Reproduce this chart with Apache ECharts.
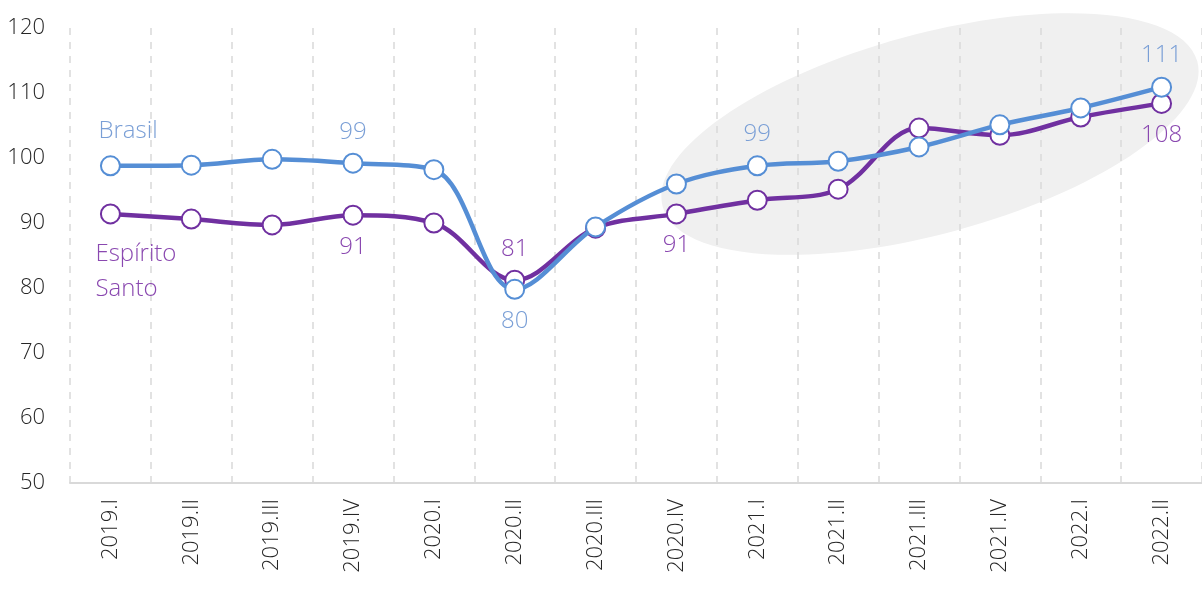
<!DOCTYPE html>
<html>
<head>
<meta charset="utf-8">
<script src="https://cdn.jsdelivr.net/npm/echarts@6/dist/echarts.min.js"></script>
<style>html,body{margin:0;padding:0;background:#fff}#c{width:1202px;height:590px}</style>
</head>
<body>
<div id="c"></div>
<script>
const categories = ['2019.I','2019.II','2019.III','2019.IV','2020.I','2020.II','2020.III','2020.IV','2021.I','2021.II','2021.III','2021.IV','2022.I','2022.II'];
const brasil = [98.8, 98.9, 99.8, 99.2, 98.2, 79.8, 89.4, 96.0, 98.8, 99.5, 101.7, 105.1, 107.7, 110.9];
const espiritoSanto = [91.4, 90.6, 89.7, 91.2, 90.0, 81.2, 89.2, 91.4, 93.5, 95.2, 104.6, 103.5, 106.3, 108.4];
const brasilLabelIdx = {3: 'top', 5: 'bottom', 8: 'top', 13: 'top'};
const esLabelIdx = {3: 'bottom', 5: 'top', 7: 'bottom', 13: 'bottom'};
const yTicks = [50, 60, 70, 80, 90, 100, 110, 120];

const FONT = '"Open Sans", "Noto Sans", sans-serif';
const BLUE = '#558ed5';
const PURPLE = '#7030a0';
const BLUE_TXT = '#7a9fd6';
const PURPLE_TXT = '#8a48b0';

function buildData(vals, idxMap, color, nameLabel) {
  return vals.map((v, i) => {
    const item = { value: v };
    if (idxMap[i]) {
      item.label = {
        show: true, position: idxMap[i], distance: 9,
        formatter: p => Math.round(p.value).toString(),
        color: color, fontSize: 24, fontFamily: FONT, fontWeight: 300
      };
    }
    if (i === 0 && nameLabel) item.label = nameLabel;
    return item;
  });
}

const chart = echarts.init(document.getElementById('c'), null, {renderer: 'canvas'});
chart.setOption({
  animation: false,
  backgroundColor: '#fff',
  graphic: [{
    type: 'ellipse', z: -10, silent: true,
    x: 930, y: 134, rotation: 15.2 * Math.PI / 180,
    shape: { cx: 0, cy: 0, rx: 277, ry: 100 },
    style: { fill: '#f0f0f0' }
  }],
  grid: { left: 70, top: 28, width: 1136, bottom: 107, containLabel: false },
  xAxis: {
    type: 'category', data: categories, boundaryGap: true,
    axisLine: { show: true, lineStyle: { color: '#d9d9d9', width: 2 } },
    axisTick: { show: false },
    splitLine: { show: true, interval: 0, lineStyle: { color: '#d9d9d9', width: 1.5, type: [7, 7] } },
    axisLabel: { rotate: 90, interval: 0, margin: 16, color: '#262626', fontSize: 22, fontFamily: FONT, fontWeight: 300 }
  },
  yAxis: {
    type: 'value', min: yTicks[0], max: yTicks[yTicks.length - 1], interval: 10,
    axisLine: { show: false }, axisTick: { show: false },
    splitLine: { show: false },
    axisLabel: { margin: 25, color: '#262626', fontSize: 22, fontFamily: FONT, fontWeight: 300 }
  },
  series: [
    {
      name: 'Brasil', type: 'line', smooth: 0.35, z: 3,
      symbol: 'circle', symbolSize: 19,
      lineStyle: { color: BLUE, width: 4.5 },
      itemStyle: { color: '#fff', borderColor: BLUE, borderWidth: 2 },
      data: buildData(brasil, brasilLabelIdx, BLUE_TXT, {
        show: true, position: 'top', align: 'left', distance: 10, offset: [-12, -2],
        formatter: 'Brasil', color: BLUE_TXT, fontSize: 24, fontFamily: FONT, fontWeight: 300
      })
    },
    {
      name: 'Espírito Santo', type: 'line', smooth: 0.35, z: 2,
      symbol: 'circle', symbolSize: 19,
      lineStyle: { color: PURPLE, width: 4.5 },
      itemStyle: { color: '#fff', borderColor: PURPLE, borderWidth: 2 },
      data: buildData(espiritoSanto, esLabelIdx, PURPLE_TXT, {
        show: true, position: 'bottom', align: 'left', verticalAlign: 'top', distance: 10, offset: [-15, 2],
        formatter: 'Espírito\nSanto', lineHeight: 35, color: PURPLE_TXT, fontSize: 24, fontFamily: FONT, fontWeight: 300
      })
    }
  ]
});
</script>
</body>
</html>
